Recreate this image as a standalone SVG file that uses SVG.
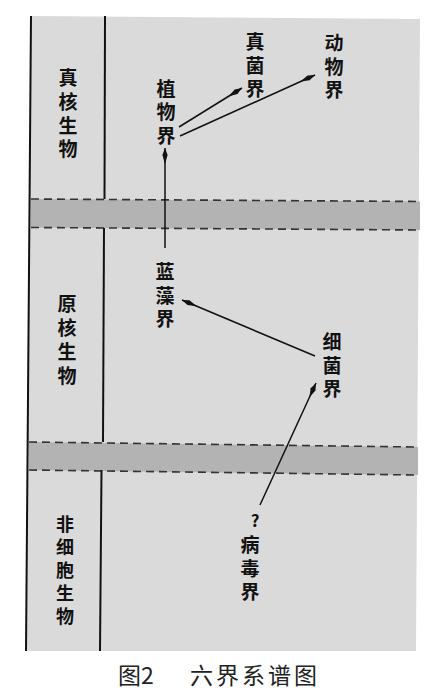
<svg xmlns="http://www.w3.org/2000/svg" width="430" height="696" viewBox="0 0 430 696">
<style>
.lbl{font-family:"Noto Sans CJK SC","Noto Sans CJK JP",sans-serif;font-size:19px;font-weight:700;fill:#111;text-anchor:middle;dominant-baseline:central}
.sm{font-size:18px}
.solid{stroke:#111;stroke-width:2;fill:none}
.dash{stroke:#333;stroke-width:1.6;stroke-dasharray:8 5;fill:none}
.band{fill:#b3b3b3}
.conn{stroke:#111;stroke-width:1.5;fill:none;marker-end:url(#spindle)}
.cap{font-family:"Noto Sans CJK SC","Noto Sans CJK JP",sans-serif;font-size:23px;fill:#222;dominant-baseline:central}
</style>
<defs>
<marker id="spindle" viewBox="-17 -4 18 8" refX="0" refY="0" markerWidth="18" markerHeight="8" markerUnits="userSpaceOnUse" orient="auto">
<path d="M0,0 L-7,-2.6 L-16,0 L-7,2.6 Z" fill="#111"/>
</marker>
</defs>
<rect width="430" height="696" fill="#ffffff"/>
<g id="panel">
<polygon points="31,16 420,19 416,651 26,651" fill="#dadada"/>
<polygon class="band" points="31,199 420,201.5 420,230 31,227.5"/>
<polygon class="band" points="29,442 418,447 418,475 29,470"/>
<line class="dash" x1="31" y1="199" x2="420" y2="201.5"/>
<line class="dash" x1="31" y1="227.5" x2="420" y2="230"/>
<line class="dash" x1="29" y1="442" x2="418" y2="447"/>
<line class="dash" x1="29" y1="470" x2="418" y2="475"/>
<line class="solid" x1="31" y1="16" x2="26" y2="651"/>
<line class="solid" x1="105" y1="16" x2="104.5" y2="199"/>
<line class="solid" x1="104" y1="228" x2="103" y2="442"/>
<line class="solid" x1="101.5" y1="470" x2="100" y2="651"/>
</g>
<g id="eukaryote">
<text class="lbl"><tspan x="68" y="76">真</tspan><tspan x="68" y="100">核</tspan><tspan x="68" y="123.5">生</tspan><tspan x="68" y="147">物</tspan></text>
</g>
<g id="prokaryote">
<text class="lbl"><tspan x="67" y="302">原</tspan><tspan x="67" y="326">核</tspan><tspan x="67" y="350">生</tspan><tspan x="67" y="374">物</tspan></text>
</g>
<g id="acellular">
<text class="lbl sm"><tspan x="65" y="523">非</tspan><tspan x="65" y="546">细</tspan><tspan x="65" y="569">胞</tspan><tspan x="65" y="592">生</tspan><tspan x="65" y="615">物</tspan></text>
</g>
<g id="plantae">
<text class="lbl"><tspan x="166" y="87">植</tspan><tspan x="166" y="110">物</tspan><tspan x="166" y="134">界</tspan></text>
</g>
<g id="fungi">
<text class="lbl"><tspan x="255" y="40">真</tspan><tspan x="255" y="63.5">菌</tspan><tspan x="255" y="87">界</tspan></text>
</g>
<g id="animalia">
<text class="lbl"><tspan x="334" y="41">动</tspan><tspan x="334" y="64.5">物</tspan><tspan x="334" y="88">界</tspan></text>
</g>
<g id="cyanobacteria">
<text class="lbl"><tspan x="165" y="270">蓝</tspan><tspan x="165" y="293.5">藻</tspan><tspan x="165" y="317">界</tspan></text>
</g>
<g id="bacteria">
<text class="lbl"><tspan x="332" y="340">细</tspan><tspan x="332" y="363.5">菌</tspan><tspan x="332" y="387">界</tspan></text>
</g>
<g id="virus">
<text class="lbl"><tspan x="255" y="519" font-size="17">?</tspan><tspan x="250" y="543">病</tspan><tspan x="250" y="566.5">毒</tspan><tspan x="250" y="590">界</tspan></text>
</g>
<g id="connectors">
<line class="conn" x1="179" y1="127" x2="242" y2="88"/>
<line class="conn" x1="180" y1="136" x2="315" y2="75"/>
<line class="conn" x1="165" y1="248" x2="165" y2="148"/>
<line class="conn" x1="315" y1="356" x2="182" y2="300"/>
<line class="conn" x1="260" y1="505" x2="316" y2="383"/>
</g>
<g id="caption">
<text class="cap" x="118" y="674">图2</text>
<text class="cap" x="190" y="674" letter-spacing="3">六界系谱图</text>
</g>
</svg>
